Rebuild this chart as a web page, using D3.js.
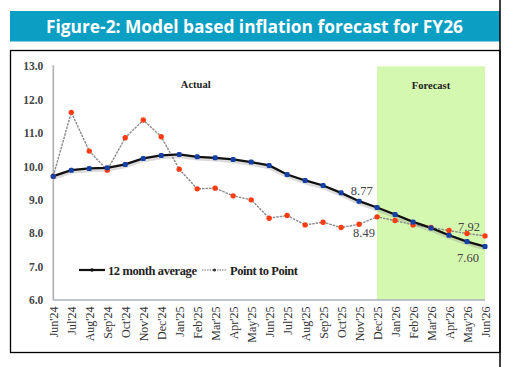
<!DOCTYPE html>
<html><head><meta charset="utf-8">
<script src="https://cdn.jsdelivr.net/npm/d3@7"></script>
<style>body{margin:0;background:#fff}svg{display:block}</style>
</head><body>
<svg id="c" width="515" height="367"></svg>
<script>
const months = ["Jun'24","Jul'24","Aug'24","Sep'24","Oct'24","Nov'24","Dec'24","Jan'25","Feb'25","Mar'25","Apr'25","May'25","Jun'25","Jul'25","Aug'25","Sep'25","Oct'25","Nov'25","Dec'25","Jan'26","Feb'26","Mar'26","Apr'26","May'26","Jun'26"];
const avg12 = [9.71,9.89,9.94,9.96,10.06,10.24,10.33,10.36,10.29,10.26,10.21,10.13,10.03,9.76,9.58,9.43,9.21,8.96,8.77,8.56,8.34,8.16,7.94,7.75,7.60];
const p2p = [9.71,11.62,10.46,9.89,10.86,11.39,10.89,9.92,9.33,9.35,9.12,9.00,8.45,8.53,8.25,8.33,8.17,8.27,8.49,8.38,8.25,8.17,8.08,7.99,7.92];
const yTicks = [6,7,8,9,10,11,12,13];
const forecastStart = "Dec'25", forecastEnd = "Jun'26";
const title = "Figure-2: Model based inflation forecast for FY26";

const svg = d3.select("#c");
const x = d3.scalePoint().domain(months).range([53.3, 485]);
const y = d3.scaleLinear().domain([6, 13]).range([300, 66.3]);

// title bar
svg.append("rect").attr("x",10).attr("y",11).attr("width",490).attr("height",30.5).attr("fill","#0a9fc3");
svg.append("text").attr("x",254.5).attr("y",33).attr("text-anchor","middle")
  .attr("font-family","'Open Sans', sans-serif").attr("font-weight","bold").attr("font-size",18)
  .attr("fill","#fff").attr("textLength",417).attr("lengthAdjust","spacingAndGlyphs").text(title);

// page border line + box
svg.append("line").attr("x1",500).attr("x2",500).attr("y1",0).attr("y2",367).attr("stroke","#000").attr("stroke-width",1.5);
svg.append("rect").attr("x",10.5).attr("y",50.5).attr("width",489.5).attr("height",302).attr("fill","none").attr("stroke","#000").attr("stroke-width",1.3);

// forecast region
svg.append("rect").attr("x",x(forecastStart)).attr("y",y(13)).attr("width",x(forecastEnd)-x(forecastStart)).attr("height",y(6)-y(13)).attr("fill","#d4f8b0");

// axes lines
svg.append("line").attr("x1",x(months[0])).attr("x2",x(months[0])).attr("y1",y(13)-1).attr("y2",y(6)).attr("stroke","#b0b0b0").attr("stroke-width",1.6);
svg.append("line").attr("x1",x(months[0])).attr("x2",x(months[months.length-1])).attr("y1",y(6)).attr("y2",y(6)).attr("stroke","#a8b4bc").attr("stroke-width",1.3);

// y labels
const yAxis = d3.axisLeft(y).tickValues(yTicks).tickFormat(d3.format(".1f")).tickSize(0).tickPadding(10);
const ya = svg.append("g").attr("transform","translate(53.3,0)").call(yAxis);
ya.select(".domain").remove();
ya.selectAll("text").attr("font-family","'Liberation Serif', serif").attr("font-weight","bold").attr("font-size",11.5).attr("fill","#444");

// x labels
const xAxis = d3.axisBottom(x).tickSize(0).tickPadding(0);
const xa = svg.append("g").attr("transform",`translate(0,${y(6)})`).call(xAxis);
xa.select(".domain").remove();
xa.selectAll("text").attr("font-family","'Liberation Serif', serif").attr("font-size",12).attr("fill","#333")
  .attr("text-anchor","end").attr("dy",null).attr("y",0)
  .attr("transform","translate(4,6.5) rotate(-90)");

// labels
const lab = (t,xx,yy,opt={}) => svg.append("text").attr("x",xx).attr("y",yy).attr("text-anchor","middle")
  .attr("font-family","'Liberation Serif', serif").attr("font-size",opt.size||12.5).attr("font-weight",opt.bold?"bold":"normal").attr("fill",opt.fill||"#444").text(t);
lab("Actual",195.7,88,{size:10.5,bold:true,fill:"#222"});
lab("Forecast",431,89,{size:10.5,bold:true,fill:"#222"});

// point-to-point line
const line = d3.line().x((d,i)=>x(months[i])).y(d=>y(d));
svg.append("path").datum(p2p).attr("d",line).attr("fill","none").attr("stroke","#8a8a8a").attr("stroke-width",1.4).attr("stroke-dasharray","2.5,1");
// avg line with shadow
svg.append("path").datum(avg12).attr("d",line).attr("fill","none").attr("stroke","#999").attr("stroke-width",4.5).attr("opacity",0.35).attr("transform","translate(0,1.5)");
svg.append("path").datum(avg12).attr("d",line).attr("fill","none").attr("stroke","#111").attr("stroke-width",2.3);

svg.append("g").selectAll("circle").data(p2p).join("circle").attr("cx",(d,i)=>x(months[i])).attr("cy",d=>y(d)).attr("r",2.7).attr("fill","#ff3b12");
svg.append("g").selectAll("rect").data(avg12).join("rect").attr("x",(d,i)=>x(months[i])-2.5).attr("y",d=>y(d)-2.5).attr("width",5).attr("height",5).attr("rx",1.5).attr("fill","#1440a8");

// value labels
const iDec = months.indexOf("Dec'25"), iEnd = months.length-1;
lab(avg12[iDec].toFixed(2),361.7,194.5);
lab(p2p[iDec].toFixed(2),364,237);
lab(p2p[iEnd].toFixed(2),469,230.5);
lab(avg12[iEnd].toFixed(2),468,261.5);

// legend
const lg = svg.append("g");
lg.append("line").attr("x1",79).attr("x2",105).attr("y1",270).attr("y2",270).attr("stroke","#111").attr("stroke-width",2.2);
lg.append("circle").attr("cx",92).attr("cy",270).attr("r",1.8).attr("fill","#111");
lg.append("text").attr("x",108).attr("y",274.5).attr("font-family","'Liberation Serif', serif").attr("font-weight","bold").attr("font-size",12.5).attr("fill","#222").attr("textLength",89).text("12 month average");
lg.append("line").attr("x1",202).attr("x2",227).attr("y1",270).attr("y2",270).attr("stroke","#777").attr("stroke-width",1.2).attr("stroke-dasharray","1.5,1");
lg.append("circle").attr("cx",214.5).attr("cy",270).attr("r",1.6).attr("fill","#333");
lg.append("text").attr("x",230).attr("y",274.5).attr("font-family","'Liberation Serif', serif").attr("font-weight","bold").attr("font-size",12.5).attr("fill","#222").attr("textLength",68).text("Point to Point");
</script>
</body></html>
